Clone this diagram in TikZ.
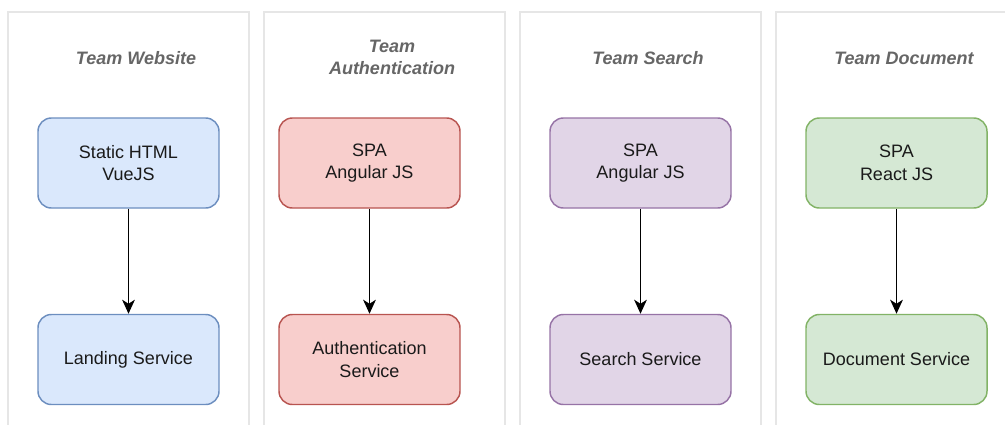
\documentclass[tikz,border=0pt]{standalone}
\usepackage{fontspec}
\setmainfont{Liberation Sans}
\usetikzlibrary{arrows.meta}
\definecolor{panelline}{HTML}{E6E6E6}
\definecolor{titlegray}{HTML}{666666}
\definecolor{bluefill}{HTML}{DAE8FC}\definecolor{bluedraw}{HTML}{6C8EBF}
\definecolor{redfill}{HTML}{F8CECC}\definecolor{reddraw}{HTML}{B85450}
\definecolor{purplefill}{HTML}{E1D5E7}\definecolor{purpledraw}{HTML}{9673A6}
\definecolor{greenfill}{HTML}{D5E8D4}\definecolor{greendraw}{HTML}{82B366}
\definecolor{boxtext}{HTML}{1A1A1A}
\tikzset{
  panel/.style={draw=panelline, line width=1.1pt},
  teamtitle/.style={font=\fontsize{13.5}{16.5}\selectfont\bfseries\itshape, text=titlegray, align=center},
  svcbox/.style={rounded corners=10pt, line width=1.1pt, minimum width=181*0.75pt, minimum height=90*0.75pt,
    font=\fontsize{13.5}{17}\selectfont, text=boxtext, align=center, inner sep=0pt},
  bluebox/.style={svcbox, fill=bluefill, draw=bluedraw},
  redbox/.style={svcbox, fill=redfill, draw=reddraw},
  purplebox/.style={svcbox, fill=purplefill, draw=purpledraw},
  greenbox/.style={svcbox, fill=greenfill, draw=greendraw},
  flow/.style={draw=black, line width=1.4pt, -{Stealth[length=10.5pt, width=9.5pt, inset=3pt]}}
}
\begin{document}
\begin{tikzpicture}[x=0.75pt, y=-0.75pt]
\useasboundingbox (0,0) rectangle (1005,425);
% panels
\draw[panel] (8,425) -- (8,12) -- (249,12) -- (249,425);
\draw[panel] (264,425) -- (264,12) -- (505,12) -- (505,425);
\draw[panel] (520,425) -- (520,12) -- (761,12) -- (761,425);
\draw[panel] (776,425) -- (776,12) -- (1006,12);
% titles
\node[teamtitle] (t1) at (136,58) {Team Website};
\node[teamtitle] (t2) at (392,57) {Team\\Authentication};
\node[teamtitle] (t3) at (648,58) {Team Search};
\node[teamtitle] (t4) at (904,58) {Team Document};
% boxes
\node[bluebox] (a1) at (128.5,163) {Static HTML\\VueJS};
\node[bluebox] (b1) at (128.5,359.5) {Landing Service};
\node[redbox] (a2) at (369.5,163) {SPA\\Angular JS};
\node[redbox] (b2) at (369.5,359.5) {Authentication\\Service};
\node[purplebox] (a3) at (640.5,163) {SPA\\Angular JS};
\node[purplebox] (b3) at (640.5,359.5) {Search Service};
\node[greenbox] (a4) at (896.5,163) {SPA\\React JS};
\node[greenbox] (b4) at (896.5,359.5) {Document Service};
% arrows
\draw[flow] (a1) -- (b1);
\draw[flow] (a2) -- (b2);
\draw[flow] (a3) -- (b3);
\draw[flow] (a4) -- (b4);
\end{tikzpicture}
\end{document}
